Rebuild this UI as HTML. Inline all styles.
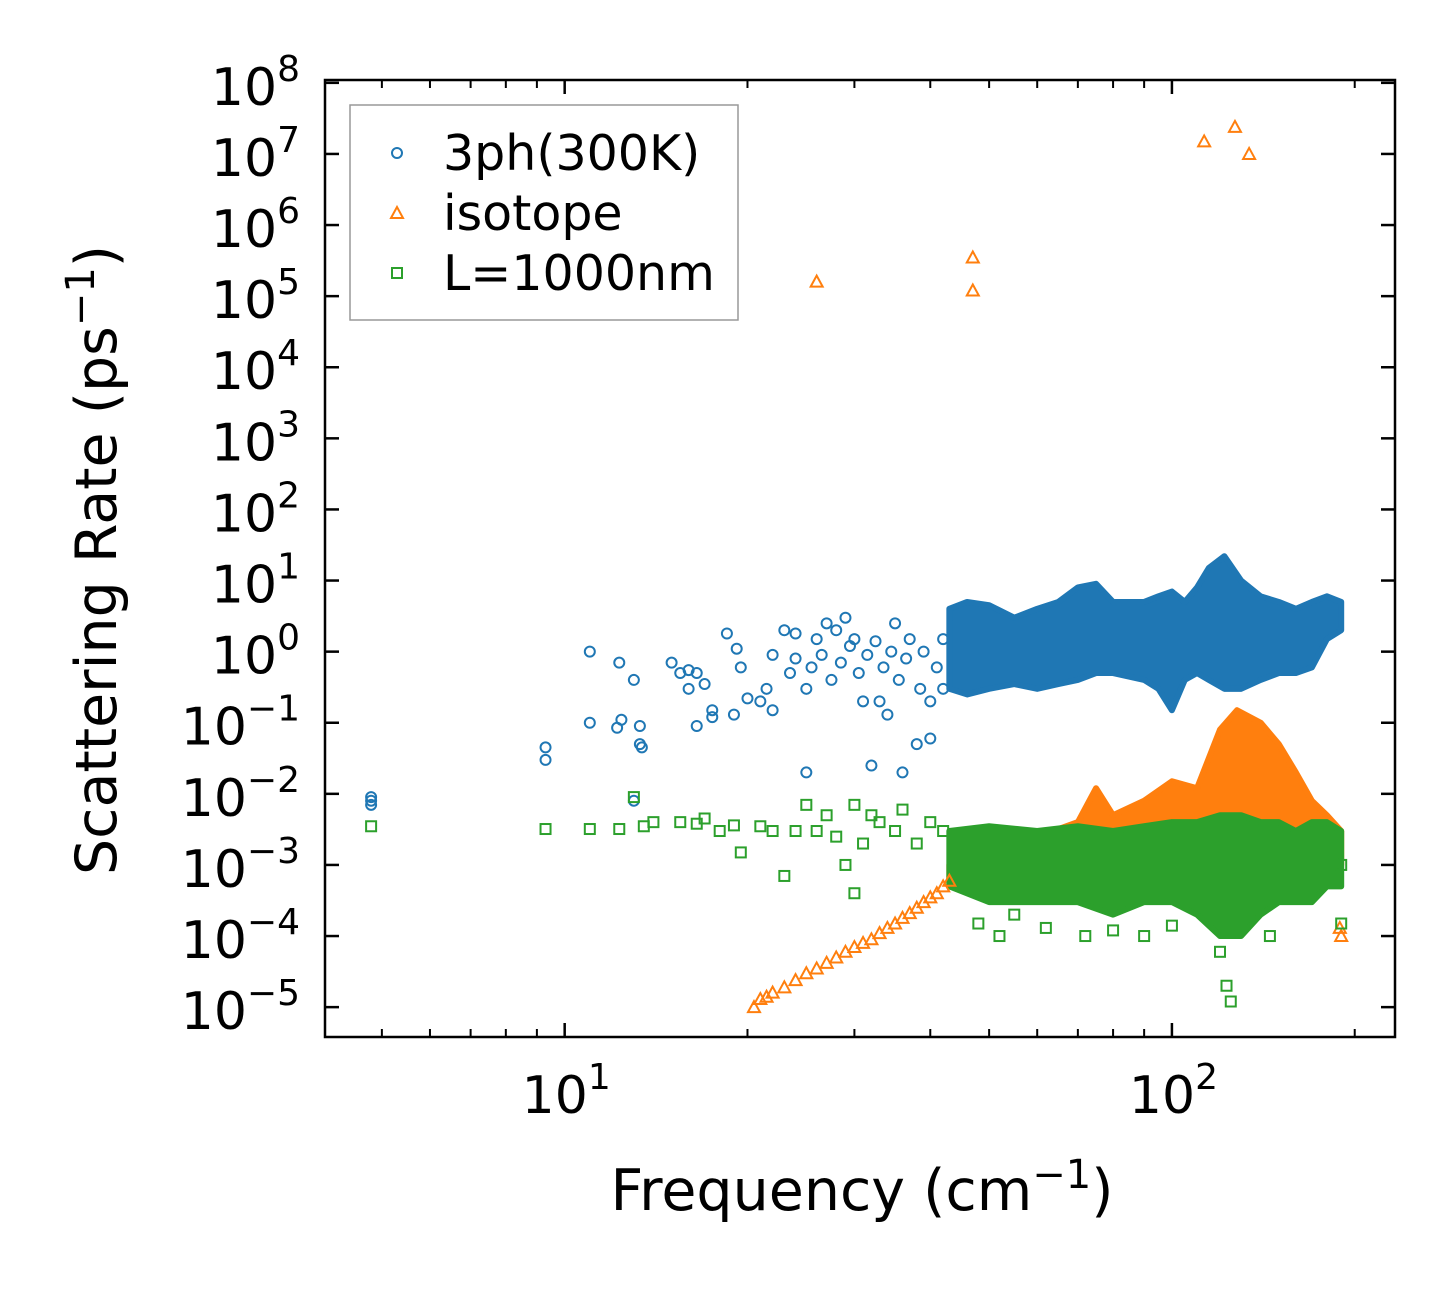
<!DOCTYPE html>
<html><head><meta charset="utf-8"><style>
body{margin:0;background:#fff}
svg text{font-family:"DejaVu Sans","Liberation Sans",sans-serif;fill:#000}
</style></head><body>
<svg id="chart" width="1455" height="1287" viewBox="0 0 1455 1287" xmlns="http://www.w3.org/2000/svg">
<rect width="1455" height="1287" fill="#fff"/>
<g id="plot"></g>
<g id="axes"></g>
<rect x="325" y="80" width="1070" height="957" fill="none" stroke="#000" stroke-width="2.5"/>
<text x="862" y="1210" font-size="57" text-anchor="middle">Frequency (cm<tspan dy="-22" font-size="40">−1</tspan><tspan dy="22">)</tspan></text>
<text transform="translate(116,560) rotate(-90)" font-size="57" text-anchor="middle">Scattering Rate (ps<tspan dy="-22" font-size="40">−1</tspan><tspan dy="22">)</tspan></text>
<g>
<rect x="350" y="105" width="388" height="215" fill="#fff" stroke="#999" stroke-width="1.5"/>
<circle cx="397" cy="153" r="5" fill="none" stroke="#1f77b4" stroke-width="2"/>
<text x="443" y="170" font-size="49">3ph(300K)</text>
<path d="M397,207 L403,218 L391,218 Z" fill="none" stroke="#ff7f0e" stroke-width="2"/>
<text x="443" y="230" font-size="49">isotope</text>
<rect x="392" y="268" width="10" height="10" fill="none" stroke="#2ca02c" stroke-width="2"/>
<text x="443" y="290" font-size="49">L=1000nm</text>
</g>
</svg>
<script>
const yTickExps=[8,7,6,5,4,3,2,1,0,-1,-2,-3,-4,-5];
const xTickExps=[1,2];
// dense band envelopes: [freq, low, high]
const blueBand=[[43,0.3,4],[46,0.25,5],[50,0.3,4.5],[55,0.35,3],[60,0.3,4],[65,0.35,5],[70,0.4,8],[75,0.5,9],[80,0.5,5],[90,0.4,5],[95,0.3,6],[100,0.15,7],[105,0.4,5],[110,0.5,8],[115,0.4,15],[122,0.3,22],[130,0.3,10],[140,0.4,6],[150,0.5,5],[160,0.5,4],[170,0.6,5],[180,1.5,6],[190,2,5]];
const orangeBand=[[43,5e-4,1e-3],[50,6e-4,2e-3],[60,8e-4,2.5e-3],[70,9e-4,4e-3],[75,1e-3,1.2e-2],[80,1e-3,5e-3],[90,1e-3,8e-3],[100,1e-3,1.5e-2],[110,1e-3,1.2e-2],[120,2e-3,0.08],[128,3e-3,0.15],[140,3e-3,0.1],[150,3e-3,0.05],[160,3e-3,0.02],[170,3e-3,8e-3],[180,2e-3,5e-3],[190,1e-3,3e-3]];
const greenBand=[[43,5e-4,3e-3],[50,3e-4,3.5e-3],[60,3e-4,3e-3],[70,3e-4,3.5e-3],[80,2e-4,3e-3],[90,3e-4,3.5e-3],[100,3e-4,4e-3],[110,2e-4,4e-3],[120,1e-4,5e-3],[130,1e-4,5e-3],[140,2e-4,4e-3],[150,3e-4,4e-3],[160,3e-4,3e-3],[170,3e-4,4e-3],[180,5e-4,4e-3],[190,5e-4,3e-3]];
const bluePts=[[4.8,0.007],[4.8,0.009],[4.8,0.008],[9.3,0.03],[9.3,0.045],[11,1.0],[11,0.1],[12.3,0.7],[12.2,0.085],[12.4,0.11],[13,0.4],[13.3,0.05],[13.3,0.09],[13.4,0.045],[13,0.008],[15,0.7],[15.5,0.5],[16,0.55],[16.5,0.5],[16,0.3],[17,0.35],[16.5,0.09],[17.5,0.15],[17.5,0.12],[18.5,1.8],[19,0.13],[19.2,1.1],[19.5,0.6],[20,0.22],[21,0.2],[21.5,0.3],[22,0.9],[22,0.15],[23,2],[23.5,0.5],[24,1.8],[24,0.8],[25,0.02],[25,0.3],[25.5,0.6],[26,1.5],[26.5,0.9],[27,2.5],[27.5,0.4],[28,2],[28.5,0.7],[29,3],[29.5,1.2],[30,1.5],[30.5,0.5],[31,0.2],[31.5,0.9],[32,0.025],[32.5,1.4],[33,0.2],[33.5,0.6],[34,0.13],[34.5,1],[35,2.5],[35.5,0.4],[36,0.02],[36.5,0.8],[37,1.5],[38,0.05],[38.5,0.3],[39,1],[40,0.06],[40,0.2],[41,0.6],[42,0.3],[42,1.5]];
const orangePts=[[26,1.6e5],[47,3.5e5],[47,1.2e5],[113,1.5e7],[127,2.4e7],[134,1e7],[190,1e-4],[189,1.3e-4],[20.5,1e-5],[21,1.3e-5],[21.5,1.4e-5],[22,1.6e-5],[23,1.9e-5],[24,2.4e-5],[25,3e-5],[26,3.5e-5],[27,4.2e-5],[28,5e-5],[29,6e-5],[30,7e-5],[31,8e-5],[32,9e-5],[33,1.1e-4],[34,1.3e-4],[35,1.5e-4],[36,1.8e-4],[37,2.1e-4],[38,2.5e-4],[39,3e-4],[40,3.5e-4],[41,4e-4],[42,5e-4],[43,6e-4]];
const greenPts=[[4.8,0.0035],[9.3,0.0032],[11,0.0032],[12.3,0.0032],[13,0.009],[13.5,0.0035],[14,0.004],[15.5,0.004],[16.5,0.0038],[17,0.0045],[18,0.003],[19,0.0036],[19.5,0.0015],[21,0.0035],[22,0.003],[23,0.0007],[24,0.003],[25,0.007],[26,0.003],[27,0.005],[28,0.0025],[29,0.001],[30,0.007],[30,0.0004],[31,0.002],[32,0.005],[33,0.004],[35,0.003],[36,0.006],[38,0.002],[40,0.004],[42,0.003],[48,1.5e-4],[52,1e-4],[55,2e-4],[62,1.3e-4],[72,1e-4],[80,1.2e-4],[90,1e-4],[100,1.4e-4],[120,6e-5],[123,2e-5],[125,1.2e-5],[145,1e-4],[190,1.5e-4],[190,1e-3]];

const NS='http://www.w3.org/2000/svg';
const X0=325,X1=1395,Y0=80,Y1=1037;
const xlo=Math.log10(4.03),xhi=Math.log10(233),ylo=-5.42,yhi=8.04;
function xs(f){return X0+(Math.log10(f)-xlo)/(xhi-xlo)*(X1-X0);}
function ys(v){return Y1-(Math.log10(v)-ylo)/(yhi-ylo)*(Y1-Y0);}
function mk(tag,attrs,parent){const e=document.createElementNS(NS,tag);for(const k in attrs)e.setAttribute(k,attrs[k]);parent.appendChild(e);return e;}
const plot=document.getElementById('plot'),axes=document.getElementById('axes');

function band(arr,color,name){
  let d='M'+arr.map(p=>xs(p[0])+','+ys(p[2])).join(' L');
  d+=' L'+arr.slice().reverse().map(p=>xs(p[0])+','+ys(p[1])).join(' L')+' Z';
  const e=mk('path',{d:d,fill:color,stroke:color,'stroke-width':6,'stroke-linejoin':'round'},plot);
  
  
}
band(blueBand,'#1f77b4','band-3ph');
band(orangeBand,'#ff7f0e','band-isotope');
band(greenBand,'#2ca02c','band-boundary');

bluePts.forEach(p=>{const e=mk('circle',{cx:xs(p[0]),cy:ys(p[1]),r:5,fill:'none',stroke:'#1f77b4','stroke-width':2},plot);

});
orangePts.forEach(p=>{const x=xs(p[0]),y=ys(p[1]);const e=mk('path',{d:`M${x},${y-6} L${x+6},${y+5} L${x-6},${y+5} Z`,fill:'none',stroke:'#ff7f0e','stroke-width':2},plot);

});
greenPts.forEach(p=>{const e=mk('rect',{x:xs(p[0])-5,y:ys(p[1])-5,width:10,height:10,fill:'none',stroke:'#2ca02c','stroke-width':2},plot);

});

yTickExps.forEach(k=>{const y=ys(Math.pow(10,k));
  mk('line',{x1:X0,x2:X0+14,y1:y,y2:y,stroke:'#000','stroke-width':2.5},axes);
  mk('line',{x1:X1,x2:X1-14,y1:y,y2:y,stroke:'#000','stroke-width':2.5},axes);
  const t=mk('text',{x:300,y:y+22,'font-size':52,'text-anchor':'end'},axes);
  
  
  t.innerHTML='10<tspan dy="-24" font-size="36">'+(k<0?'−'+(-k):k)+'</tspan>';
});
xTickExps.forEach(k=>{const x=xs(Math.pow(10,k));
  mk('line',{x1:x,x2:x,y1:Y1,y2:Y1-14,stroke:'#000','stroke-width':2.5},axes);
  mk('line',{x1:x,x2:x,y1:Y0,y2:Y0+14,stroke:'#000','stroke-width':2.5},axes);
  const t=mk('text',{x:x-43,y:1113,'font-size':52,'text-anchor':'start'},axes);
  
  
  t.innerHTML='10<tspan dy="-24" font-size="36">'+k+'</tspan>';
});
[5,6,7,8,9,20,30,40,50,60,70,80,90,200].forEach(f=>{const x=xs(f);
  mk('line',{x1:x,x2:x,y1:Y1,y2:Y1-8,stroke:'#000','stroke-width':2},axes);
  mk('line',{x1:x,x2:x,y1:Y0,y2:Y0+8,stroke:'#000','stroke-width':2},axes);
});
</script>
</body></html>
